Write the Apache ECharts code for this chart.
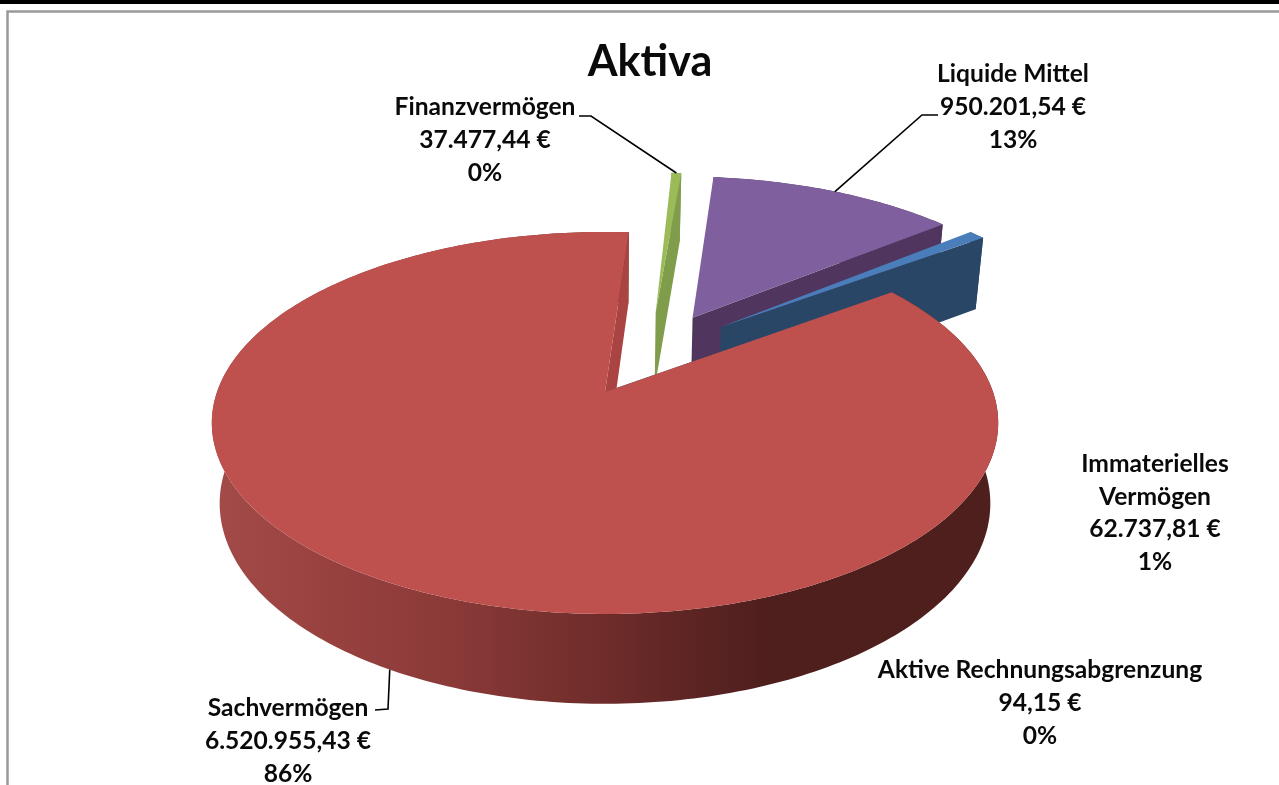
<!DOCTYPE html>
<html><head><meta charset="utf-8">
<style>html,body{margin:0;padding:0;background:#fff}#c{width:1279px;height:785px}</style>
<script src="https://cdn.jsdelivr.net/npm/echarts@6/dist/echarts.min.js"></script>
</head><body><div id="c"></div>
<script>
// data (clockwise from the first slice)
const categories = ['Finanzvermögen','Liquide Mittel','Immaterielles\nVermögen','Aktive Rechnungsabgrenzung','Sachvermögen'];
const values = [37477.44, 950201.54, 62737.81, 94.15, 6520955.43];

// style
const topColors = ['#9BBB59','#7F5F9E','#4A7EBB','#4A7EBB','#BE504E'];
const wallColors = ['#7F9D4A','#50365F','#2A4666','#2A4666','#A94442'];
const sideRed = [[0,'#A34B49'],[0.12,'#9A4341'],[0.3,'#8B3A38'],[0.5,'#6E2C2A'],[0.7,'#4F1F1E'],[1,'#4F1F1E']];

// 3D pie layout: perspective projection of a unit disc
const CX = 605, CY = 392, RX = 388, RY = 186, P = 0.162, DEPTH = 79, LOWER = 0.98, START = 4.1;
const explodeDir = [17, 29.5, 40.5, 0, 0];
const explodeDist = [0.48, 0.49, 0.487, 0, 0];

// label layout: block centre and the leader's label-side points
const labelPos = [[485,140],[1013,107],[1155,513],[1040,703],[288,741]];
const leaderStart = [[[579,116],[591,116]],[[938,115],[922,115]],null,null,[[375,710],[388,709]]];

const total = values.reduce((a,b)=>a+b,0);
const starts = []; values.reduce((acc,v,i)=>{starts[i]=acc;return acc+v/total*360;},START);

function proj(u,v,low){
  const s = 1/(1-P*v), k = low?LOWER:1;
  return [CX+RX*u*s*k, CY+RY*v*s*k+(low?DEPTH*s:0)];
}
function offs(i){const d=explodeDir[i]*Math.PI/180,e=explodeDist[i];return [e*Math.sin(d),-e*Math.cos(d)];}
function rim(i,deg,low){
  const o=offs(i),t=deg*Math.PI/180;
  return proj(o[0]+Math.sin(t),o[1]-Math.cos(t),low);
}
function apex(i,low){const o=offs(i);return proj(o[0],o[1],low);}
function arc(i,a,b,low){
  const n=Math.max(2,Math.ceil(Math.abs(b-a))),pts=[];
  for(let j=0;j<=n;j++)pts.push(rim(i,a+(b-a)*j/n,low));
  return pts;
}
function fmt(v){
  const p=v.toFixed(2).split('.');
  return p[0].replace(/\B(?=(\d{3})+$)/g,'.')+','+p[1]+' €';
}
function renderSlice(params,api){
  const i=params.dataIndex, sweep=api.value(0)/total*360, a=starts[i], b=a+sweep;
  const topRim=arc(i,a,b,false), lowRim=arc(i,a,b,true);
  const isBig=sweep>180;
  const sideFill=isBig?{type:'linear',x:0,y:0,x2:1,y2:0,colorStops:sideRed.map(s=>({offset:s[0],color:s[1]}))}:wallColors[i];
  return {type:'group',children:[
    {type:'polygon',shape:{points:topRim.concat(lowRim.slice().reverse())},style:{fill:sideFill}},
    {type:'polygon',shape:{points:[apex(i,false),rim(i,b,false),rim(i,b,true),apex(i,true)]},style:{fill:wallColors[i]}},
    {type:'polygon',shape:{points:[apex(i,false)].concat(topRim)},style:{fill:topColors[i]}}
  ]};
}
function renderLabel(params,api){
  const i=params.dataIndex, v=api.value(0), mid=starts[i]+v/total*180;
  const text=categories[i]+'\n'+fmt(v)+'\n'+Math.round(v/total*100)+'%';
  const kids=[{type:'text',style:{text:text,x:labelPos[i][0],y:labelPos[i][1],textAlign:'center',textVerticalAlign:'middle',
    font:'bold 24.6px Lato',lineHeight:32.8,fill:'#0a0a0a'}}];
  if(leaderStart[i]){
    const end=rim(i,mid,i===4);
    kids.push({type:'polyline',shape:{points:leaderStart[i].concat([end])},style:{stroke:'#000',lineWidth:1.6,fill:'none'}});
  }
  return {type:'group',children:kids};
}
const rows=values.map(v=>[v]);
const chart=echarts.init(document.getElementById('c'),null,{renderer:'canvas'});
chart.setOption({
  animation:false,
  backgroundColor:'#fff',
  title:{text:'Aktiva',left:645,top:36,textAlign:'center',textStyle:{fontFamily:'Lato',fontWeight:'bold',fontSize:43,color:'#0a0a0a'}},
  graphic:[
    {type:'rect',shape:{x:0,y:0,width:1279,height:4},style:{fill:'#000'},silent:true},
    {type:'polyline',shape:{points:[[7.5,785],[7.5,11.5],[1279,11.5]]},style:{stroke:'#999',lineWidth:2.5,fill:'none'},silent:true}
  ],
  series:[
    {type:'custom',coordinateSystem:'none',data:rows,renderItem:renderSlice,silent:true,z:2},
    {type:'custom',coordinateSystem:'none',data:rows,renderItem:renderLabel,silent:true,z:3}
  ]
});
</script></body></html>
